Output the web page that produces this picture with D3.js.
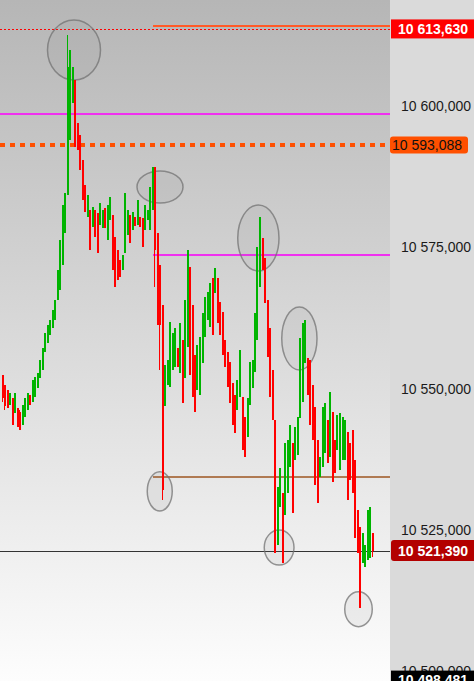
<!DOCTYPE html>
<html><head><meta charset="utf-8">
<script src="https://cdn.jsdelivr.net/npm/d3@7"></script>
<style>html,body{margin:0;padding:0;background:#fff;overflow:hidden}svg{display:block}</style>
</head><body>
<script>
// ---- data (prices in thousands, shown as "10 600,000") ----
const opens = [
10552.43,10550.66,10549.78,10547.13,10548.37,10545.71,10546.60,10545.89,10543.59,10545.01,
10546.24,10548.90,10547.66,10548.54,10550.13,10551.90,10553.32,10556.50,10558.09,10559.51,
10560.74,10562.16,10565.69,10567.46,10571.88,10577.54,10584.26,10593.99,10600.53,10604.60,
10596.99,10594.87,10590.45,10586.03,10580.37,10581.61,10578.60,10581.61,10581.08,10578.96,
10578.43,10581.96,10576.31,10579.84,10580.73,10576.84,10574.54,10572.77,10571.00,10574.01,
10577.19,10580.73,10578.07,10580.37,10578.96,10580.37,10580.20,10578.07,10579.84,10578.07,
10581.61,10589.21,10577.54,10571.88,10564.81,10546.95,10550.66,10550.31,10553.32,10553.85,
10557.21,10552.79,10558.62,10551.90,10557.38,10571.53,10564.81,10555.97,10549.78,10548.90,
10554.55,10559.15,10562.16,10560.92,10569.59,10566.93,10569.59,10565.34,10563.57,10558.62,
10556.50,10554.73,10551.02,10548.90,10546.24,10548.54,10548.54,10545.01,10541.47,10547.13,
10550.13,10552.96,10558.62,10567.99,10576.66,10573.12,10565.69,10560.74,10553.32,10544.47,
10522.37,10529.09,10531.57,10527.68,10531.57,10536.16,10540.41,10537.40,10538.29,10544.83,
10547.66,10554.55,10555.44,10555.08,10550.66,10546.77,10540.94,10534.40,10536.16,10538.64,
10544.47,10537.93,10545.89,10540.94,10539.17,10535.63,10537.40,10537.40,10542.35,10540.41,
10542.71,10537.40,10528.56,10525.55,10519.19,10518.48,10519.72,10520.07,10524.49];
const highs = [
10552.43,10550.66,10549.78,10549.25,10548.37,10549.25,10546.60,10546.24,10547.13,10548.37,
10549.25,10548.90,10551.55,10552.08,10552.79,10555.08,10557.21,10559.86,10561.27,10562.16,
10563.93,10565.69,10571.00,10576.31,10582.49,10584.62,10612.56,10609.90,10606.90,10604.60,
10596.99,10594.87,10590.45,10586.03,10584.26,10581.61,10582.14,10581.61,10581.08,10582.85,
10581.61,10581.96,10582.49,10583.91,10580.73,10576.84,10574.54,10572.77,10573.65,10584.62,
10581.61,10580.73,10581.26,10580.37,10583.38,10580.37,10580.20,10582.49,10581.61,10585.68,
10589.21,10589.21,10577.54,10571.88,10564.81,10554.20,10555.08,10561.80,10559.86,10560.74,
10557.21,10561.63,10558.62,10565.69,10574.54,10571.53,10564.81,10555.97,10557.74,10559.15,
10563.40,10566.23,10567.11,10568.70,10569.59,10571.35,10569.59,10565.34,10563.57,10558.62,
10556.50,10554.73,10551.02,10548.90,10551.55,10556.85,10548.54,10545.01,10548.37,10554.73,
10555.08,10563.40,10575.07,10580.37,10576.66,10573.12,10565.69,10560.74,10553.32,10544.47,
10532.63,10535.99,10531.57,10540.41,10540.94,10543.59,10540.41,10543.24,10545.01,10558.98,
10561.63,10562.16,10555.44,10555.08,10550.66,10546.77,10540.94,10537.93,10546.77,10547.48,
10544.47,10549.43,10545.89,10540.94,10545.36,10545.71,10545.01,10544.47,10542.35,10540.41,
10542.71,10537.40,10528.56,10525.55,10524.49,10522.37,10528.56,10529.09,10524.49];
const lows = [
10547.66,10546.24,10546.60,10547.13,10543.59,10545.71,10543.24,10542.71,10543.59,10545.01,
10546.24,10547.13,10547.66,10548.54,10550.13,10551.90,10553.32,10556.50,10558.09,10559.51,
10560.74,10562.16,10565.69,10567.46,10571.88,10577.54,10584.26,10593.99,10600.53,10592.75,
10592.22,10588.68,10583.38,10581.26,10580.37,10574.54,10578.60,10576.84,10574.01,10578.96,
10578.43,10578.43,10576.31,10579.84,10571.00,10567.99,10569.23,10569.76,10571.00,10574.01,
10577.19,10575.77,10578.07,10578.78,10578.96,10578.60,10575.07,10578.07,10579.84,10578.07,
10581.61,10567.99,10561.27,10553.32,10530.33,10546.95,10550.66,10550.31,10553.32,10553.85,
10553.85,10552.79,10547.48,10551.90,10557.38,10552.43,10548.54,10545.89,10549.78,10548.90,
10554.55,10559.15,10562.16,10560.92,10559.51,10566.93,10561.63,10559.51,10555.97,10553.85,
10550.31,10547.48,10543.59,10542.18,10546.24,10548.54,10539.17,10537.93,10541.47,10547.13,
10550.13,10552.96,10558.62,10567.99,10571.00,10565.16,10555.62,10548.54,10544.47,10520.96,
10522.37,10529.09,10519.19,10527.68,10531.57,10536.16,10528.03,10537.40,10538.29,10544.83,
10547.66,10554.55,10548.90,10543.59,10540.94,10532.98,10529.80,10534.40,10536.16,10538.64,
10536.87,10537.93,10533.51,10535.10,10539.17,10535.63,10537.40,10537.40,10530.33,10533.86,
10531.57,10523.61,10520.96,10511.23,10519.19,10518.48,10519.72,10520.07,10520.25];
const closes = [
10548.37,10546.95,10546.60,10549.25,10543.59,10549.25,10543.24,10542.71,10547.13,10548.37,
10549.25,10547.13,10551.55,10552.08,10552.79,10555.08,10557.21,10559.86,10561.27,10562.16,
10563.93,10565.69,10571.00,10576.31,10582.49,10584.62,10606.90,10609.90,10606.90,10592.75,
10592.22,10588.68,10583.38,10581.26,10584.26,10574.54,10582.14,10576.84,10574.01,10582.85,
10581.61,10578.43,10582.49,10583.91,10571.00,10567.99,10569.23,10569.76,10573.65,10584.62,
10581.61,10575.77,10581.26,10578.78,10583.38,10578.60,10575.07,10582.49,10581.61,10585.68,
10589.21,10574.54,10561.27,10561.27,10532.10,10554.20,10555.08,10561.80,10559.86,10560.74,
10553.85,10561.63,10547.48,10565.69,10574.54,10552.43,10548.54,10545.89,10557.74,10559.15,
10563.40,10566.23,10567.11,10568.70,10559.51,10571.35,10561.63,10559.51,10555.97,10553.85,
10550.31,10547.48,10543.59,10542.18,10551.55,10556.85,10539.17,10537.93,10548.37,10554.73,
10555.08,10563.40,10575.07,10580.37,10571.00,10565.16,10555.62,10548.54,10544.47,10520.96,
10532.63,10535.99,10519.19,10540.41,10540.94,10543.59,10528.03,10543.24,10545.01,10558.98,
10561.63,10562.16,10548.90,10543.59,10540.94,10532.98,10529.80,10537.93,10546.77,10547.48,
10536.87,10549.43,10533.51,10535.10,10545.36,10545.71,10545.01,10544.47,10530.33,10533.86,
10531.57,10523.61,10520.96,10511.23,10524.49,10522.37,10528.56,10529.09,10521.39];

const tickValues = [10600, 10575, 10550, 10525, 10500];
const tickLabels = ["10 600,000", "10 575,000", "10 550,000", "10 525,000", "10 500,000"];

// horizontal levels
const levelValues = [10613.63, 10614.06, 10598.58, 10593.088, 10573.65, 10534.40, 10521.39];
const levelStarts = [null, 60.5, null, null, 60.5, 60.5, null];
const levelKinds  = ["reddot", "orange", "magenta", "orangedash", "magenta", "brown", "dark"];

// price tags on the axis
const tagValues = [10613.630, 10593.088, 10521.390, 10498.481];
const tagLabels = ["10 613,630", "10 593,088", "10 521,390", "10 498,481"];
const tagKinds  = ["red", "orange", "darkred", "black"];

// highlight ellipses: bar index range and price range
const ellI0 = [18.4, 54.2, 94.5, 112.1, 58.3, 105.1, 137.3];
const ellI1 = [39.6, 72.6, 111.0, 126.2, 68.3, 117.0, 148.3];
const ellHi = [10615.21, 10588.51, 10582.49, 10564.46, 10535.33, 10525.02, 10514.11];
const ellLo = [10604.60, 10582.85, 10570.82, 10553.32, 10528.38, 10518.83, 10507.93];

// ---- drawing ----
const W = 474, H = 681, PW = 390;
const n = opens.length;
const x = d3.scaleLinear().domain([0, n - 1]).range([1.5, 371.5]);
const y = d3.scaleLinear().domain([10498.32, 10618.745]).range([H, 0]);

const svg = d3.select("body").append("svg").attr("width", W).attr("height", H);
const defs = svg.append("defs");
const g = defs.append("linearGradient").attr("id", "bg").attr("x1", 0).attr("y1", 0).attr("x2", 0).attr("y2", 1);
g.append("stop").attr("offset", "0%").attr("stop-color", "#b6b6b6");
g.append("stop").attr("offset", "100%").attr("stop-color", "#fdfdfd");

svg.append("rect").attr("width", PW).attr("height", H).attr("fill", "url(#bg)");
svg.append("rect").attr("x", PW).attr("width", W - PW).attr("height", H).attr("fill", "#dadada");

const clip = defs.append("clipPath").attr("id", "pc");
clip.append("rect").attr("width", PW).attr("height", H);
const plot = svg.append("g").attr("clip-path", "url(#pc)");

// levels
const levelStyle = {
  reddot: {c: "#ff0000", w: 1, d: "2,2"},
  orange: {c: "#ff5a28", w: 2, d: null},
  magenta: {c: "#f030f0", w: 2, d: null},
  orangedash: {c: "#ff5000", w: 4, d: "5,5"},
  brown: {c: "#b07a52", w: 2, d: null},
  dark: {c: "#333333", w: 1, d: null}
};
levelValues.forEach((v, i) => {
  const st = levelStyle[levelKinds[i]];
  const yy = Math.round(y(v)) + (st.w % 2 ? 0.5 : 0);
  const l = plot.append("line")
    .attr("x1", levelStarts[i] === null ? 0 : x(levelStarts[i])).attr("x2", PW)
    .attr("y1", yy).attr("y2", yy)
    .attr("stroke", st.c).attr("stroke-width", st.w)
    .attr("shape-rendering", "crispEdges");
  if (st.d) l.attr("stroke-dasharray", st.d);
});

// ellipses
ellI0.forEach((i0, k) => {
  const x0 = x(i0), x1 = x(ellI1[k]), y0 = y(ellHi[k]), y1 = y(ellLo[k]);
  plot.append("ellipse")
    .attr("cx", (x0 + x1) / 2).attr("cy", (y0 + y1) / 2)
    .attr("rx", (x1 - x0) / 2).attr("ry", (y1 - y0) / 2)
    .attr("fill", "rgba(120,120,120,0.09)")
    .attr("stroke", "rgba(115,115,115,0.75)").attr("stroke-width", 1.5);
});

// bars
const idx = d3.range(n);
const colorOf = i => closes[i] >= opens[i] ? "#00b400" : "#ff0000";
plot.append("g").attr("shape-rendering", "crispEdges").selectAll("line").data(idx).join("line")
  .attr("x1", i => Math.round(x(i)) + 0.5).attr("x2", i => Math.round(x(i)) + 0.5)
  .attr("y1", i => y(highs[i])).attr("y2", i => y(lows[i]))
  .attr("stroke", colorOf).attr("stroke-width", 1);
plot.append("g").attr("shape-rendering", "crispEdges").selectAll("rect").data(idx).join("rect")
  .attr("x", i => Math.round(x(i)))
  .attr("width", 2)
  .attr("y", i => y(Math.max(opens[i], closes[i])))
  .attr("height", i => Math.max(1, Math.abs(y(opens[i]) - y(closes[i]))))
  .attr("fill", colorOf);

// axis labels
const axis = svg.append("g");
tickValues.forEach((v, i) => {
  axis.append("text").attr("x", 471).attr("y", y(v)).attr("dy", "0.35em")
    .attr("text-anchor", "end")
    .attr("font-family", "Liberation Sans, Arial, sans-serif").attr("font-size", 14)
    .attr("fill", "#1a1a1a").text(tickLabels[i]);
});

// price tags
const tagStyle = {
  red: {bg: "#ff0000", fg: "#ffffff", bold: true, x: 391, w: 83, h: 19, r: 0},
  orange: {bg: "#ff5000", fg: "#111111", bold: false, x: 390, w: 75, h: 17, r: 3},
  darkred: {bg: "#b30000", fg: "#ffffff", bold: true, x: 391, w: 83, h: 21, r: 3},
  black: {bg: "#000000", fg: "#ffffff", bold: true, x: 391, w: 83, h: 19, r: 0}
};
tagValues.forEach((v, i) => {
  const st = tagStyle[tagKinds[i]];
  const cy = y(v);
  axis.append("rect").attr("x", st.x).attr("y", cy - st.h / 2)
    .attr("width", st.w + (st.r ? st.r : 0)).attr("height", st.h)
    .attr("rx", st.r).attr("fill", st.bg);
  axis.append("text").attr("x", st.x + (st.bold ? 7 : 2)).attr("y", cy).attr("dy", "0.36em")
    .attr("font-family", "Liberation Sans, Arial, sans-serif").attr("font-size", 14)
    .attr("font-weight", st.bold ? "bold" : "normal")
    .attr("fill", st.fg).text(tagLabels[i]);
});
</script>
</body></html>
